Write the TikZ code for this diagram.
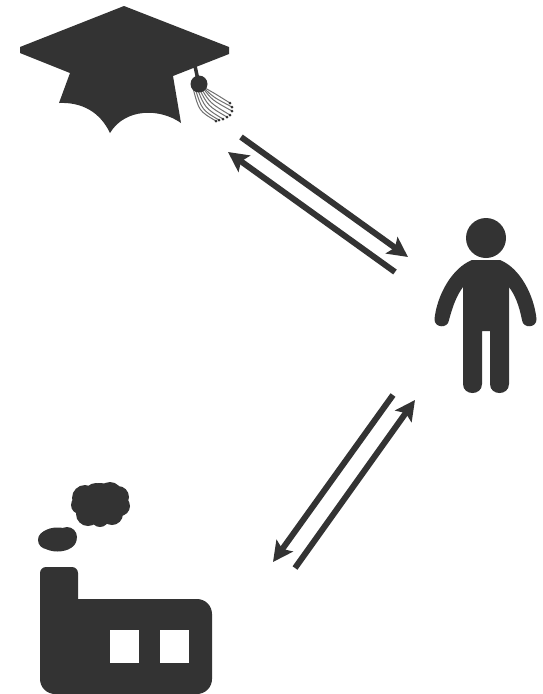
\documentclass[tikz,border=0pt]{standalone}
\usepackage{tikz}
\usetikzlibrary{arrows.meta}
\definecolor{iconDark}{RGB}{51,51,51}

\begin{document}
\begin{tikzpicture}[
    x=1pt, y=-1pt,
    icon/.style={fill=iconDark, draw=none},
    hole/.style={fill=white, draw=none},
    thread/.style={draw=iconDark!70, line width=1pt},
    arr/.style={-{Stealth[length=20pt, width=20pt, inset=4pt]}, iconDark, line width=6pt}
  ]
  \useasboundingbox (0,0) rectangle (543,694);

  % cap
  \fill[icon] (124,6) -- (229,47) -- (229,54) -- (173,76) -- (181,123)
      .. controls (160,108) and (125,108) .. (110,133)
      .. controls (100,112) and (82,102) .. (59,103)
      -- (70,73) -- (20,53) -- (20,47) -- cycle;
  \draw[iconDark, line width=3.5pt] (195,66) -- (198,80);
  \foreach \sx/\ex/\ey/\cx/\cy in {205/230/103/214/93, 204/232/107/213/97, 203/232/111/212/100,
                                   201/230/115/210/103, 199/227/117/208/106, 197/223/119/205/108,
                                   195/219/120/202/110, 193/216/121/199/111} {
    \draw[thread] (\sx,88) .. controls (\cx,\cy) and (\cx,\cy) .. (\ex,\ey);
    \fill[icon] (\ex,\ey) circle (1.5);
  }
  \fill[icon] (199,84) circle (8.5);

  % person
  \fill[icon] (486,238) circle (20);
  \fill[icon] (472,260) -- (500,260)
      .. controls (520,268) and (534,295) .. (536.5,319)
      .. controls (537,328) and (523,329) .. (522,320)
      .. controls (519,305) and (515,295) .. (509,287)
      -- (509,384) .. controls (509,396) and (490,396) .. (490,384)
      -- (490,331) -- (482,331) -- (482,384)
      .. controls (482,396) and (463,396) .. (463,384)
      -- (463,287)
      .. controls (457,295) and (453,305) .. (449,320)
      .. controls (448,329) and (434,328) .. (434.5,319)
      .. controls (437,295) and (452,268) .. (472,260) -- cycle;

  % factory
  \fill[icon, rounded corners=6pt] (40,640) -- (40,567) -- (78,567) -- (78,610) -- (60,610) -- cycle;
  \fill[icon, rounded corners=15pt] (40,590) -- (40,694) -- (212,694) -- (212,599) -- (60,599) -- cycle;
  \fill[icon] (40,585) rectangle (78,610);
  \fill[hole] (110,630) rectangle (139,663);
  \fill[hole] (160,630) rectangle (189,663);

  % smoke
  \foreach \sx/\sy/\sr in {100/504/21, 85/498/13, 96/495/12, 110/494/12, 118/497/11, 120/506/10,
                           112/514/11, 100/518/9, 88/514/12, 80/505/9}
    \fill[icon] (\sx,\sy) circle (\sr);
  \fill[icon] (57.5,539.5) ellipse (19 and 12);
  \fill[icon] (67,537) circle (10);
  \fill[icon] (47,540) circle (9);

  % connectors
  \coordinate (capOut)  at (241,137);
  \coordinate (manIn)   at (408,257);
  \coordinate (manOut)  at (395,272);
  \coordinate (capIn)   at (228,152);
  \coordinate (manDown) at (393,395);
  \coordinate (facIn)   at (273,562);
  \coordinate (facOut)  at (295,568);
  \coordinate (manUp)   at (415,400);

  \draw[arr] (capOut) -- (manIn);
  \draw[arr] (manOut) -- (capIn);
  \draw[arr] (manDown) -- (facIn);
  \draw[arr] (facOut) -- (manUp);
\end{tikzpicture}
\end{document}
